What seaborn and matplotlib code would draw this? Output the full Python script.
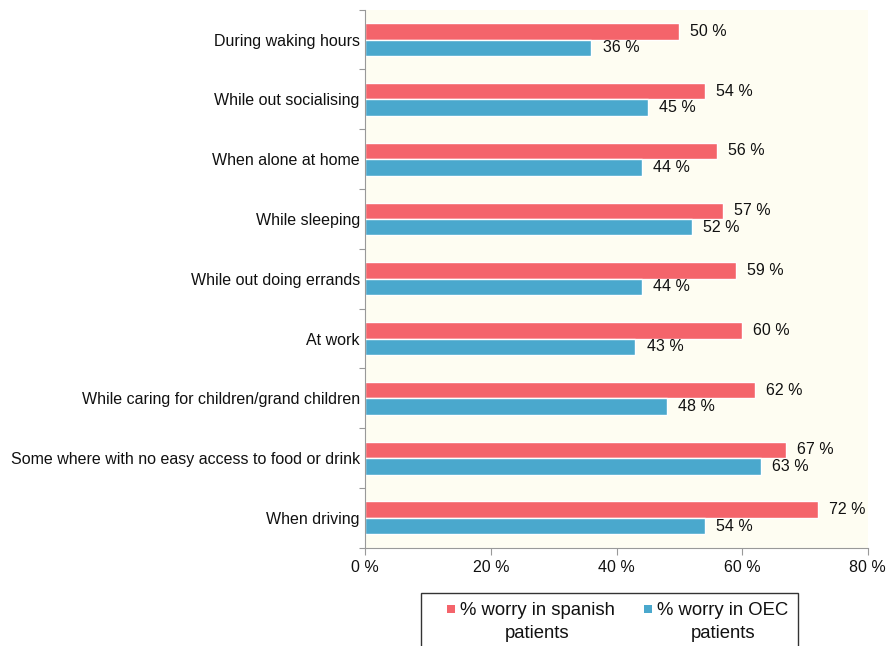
import pandas as pd
import matplotlib.pyplot as plt
import seaborn as sns
from matplotlib.patches import Patch, Rectangle
from matplotlib.legend_handler import HandlerPatch
from matplotlib.ticker import FixedLocator, NullFormatter

# data
situations = [
    'During waking hours',
    'While out socialising',
    'When alone at home',
    'While sleeping',
    'While out doing errands',
    'At work',
    'While caring for children/grand children',
    'Some where with no easy access to food or drink',
    'When driving',
]
spanish = [50, 54, 56, 57, 59, 60, 62, 67, 72]
oec = [36, 45, 44, 52, 44, 43, 48, 63, 54]
series_names = ['% worry in spanish\npatients', '% worry in OEC\npatients']
colors = ['#F4646B', '#4AA8CD']
xticks = [0, 20, 40, 60, 80]

df = pd.DataFrame({
    'Situation': situations * 2,
    'Value': spanish + oec,
    'Series': [series_names[0]] * len(situations) + [series_names[1]] * len(situations),
})

sns.set_style('white')
plt.rcParams['font.family'] = ['Liberation Sans', 'DejaVu Sans']
plt.rcParams['text.color'] = '#111111'
plt.rcParams['xtick.color'] = '#111111'
plt.rcParams['ytick.color'] = '#111111'

fig = plt.figure(figsize=(8.91, 6.46), dpi=100)
ax = fig.add_axes([0.41, 0.152, 0.564, 0.833])
ax.set_facecolor('#FEFDF2')

sns.barplot(data=df, x='Value', y='Situation', hue='Series', hue_order=series_names,
            palette=colors, orient='h', width=0.55, saturation=1, ax=ax, legend=False)

for c in ax.containers:
    ax.bar_label(c, fmt='%d %%', padding=8, fontsize=11.5)

ax.set_xlim(0, 80)
ax.set_ylim(len(situations) - 0.5, -0.5)
ax.set_xticks(xticks)
ax.set_xticklabels([f'{v} %' for v in xticks], fontsize=11.5)
ax.set_xlabel('')
ax.set_ylabel('')

# labels at category centres, tick marks on the group boundaries
ax.yaxis.set_major_locator(FixedLocator([i - 0.5 for i in range(len(situations) + 1)]))
ax.yaxis.set_major_formatter(NullFormatter())
ax.yaxis.set_minor_locator(FixedLocator(range(len(situations))))
ax.set_yticklabels(situations, minor=True, fontsize=11.5)
ax.tick_params(axis='y', which='major', left=True, length=4, color='#999999', width=0.8)
ax.tick_params(axis='y', which='minor', left=False, length=0, pad=4)
ax.tick_params(axis='x', bottom=True, length=5, color='#999999', width=0.8, pad=4)

for s in ['top', 'right']:
    ax.spines[s].set_visible(False)
for s in ['left', 'bottom']:
    ax.spines[s].set_color('#999999')
    ax.spines[s].set_linewidth(0.8)


# small square handle sitting beside the first line of a two line label
def top_square(legend, orig_handle, xdescent, ydescent, width, height, fontsize):
    s = 0.43 * fontsize
    return Rectangle((-xdescent + width - s, -ydescent + height - s), s, s)


handles = [Patch(facecolor=c, edgecolor='none') for c in colors]
leg = fig.legend(handles, series_names, loc='upper left', bbox_to_anchor=(421 / 891, 1 - 593 / 646),
                 ncol=2, frameon=True, fancybox=False, edgecolor='black', fontsize=13.3,
                 handlelength=1.35, handleheight=2.6, handletextpad=0.27, columnspacing=0.67,
                 borderpad=0.5, borderaxespad=0,
                 handler_map={Patch: HandlerPatch(patch_func=top_square)})
leg.get_frame().set_linewidth(1.0)
for t in leg.get_texts():
    t.set_multialignment('center')
    t.set_linespacing(1.45)

fig.savefig('out.png', dpi=100)
